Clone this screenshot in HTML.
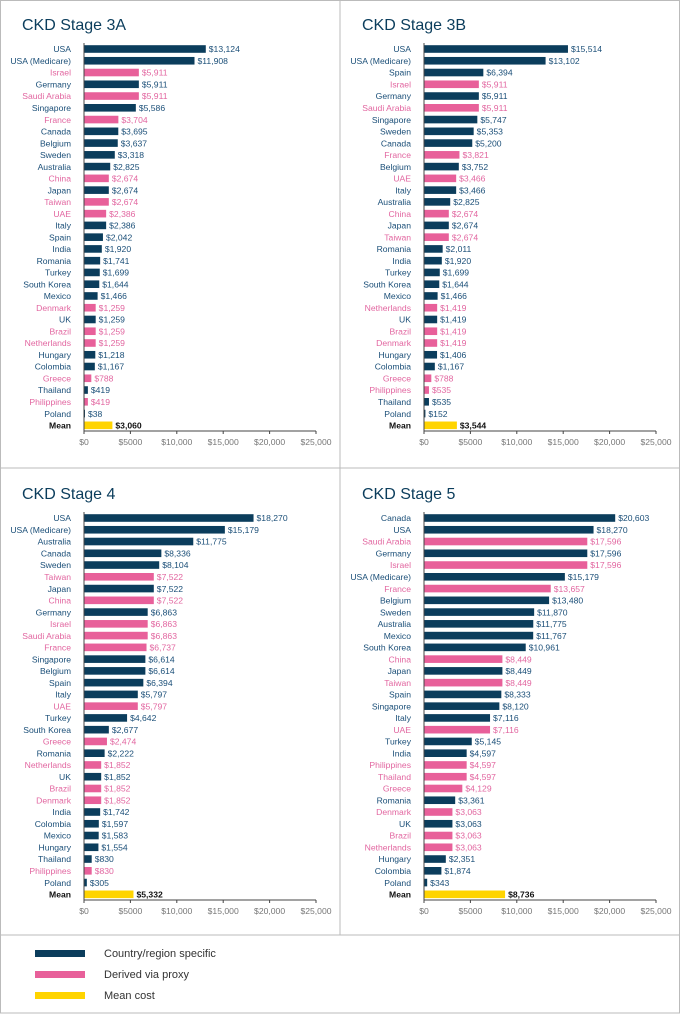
<!DOCTYPE html>
<html><head><meta charset="utf-8">
<style>
html,body{margin:0;padding:0;background:#fff;}
svg{display:block;font-family:"Liberation Sans",sans-serif;}
</style></head>
<body>
<svg id="chart" width="680" height="1014" viewBox="0 0 680 1014" xmlns="http://www.w3.org/2000/svg">
<rect x="0.5" y="0.5" width="679" height="1012.5" fill="#fff" stroke="#bbb"/>
<line x1="340" y1="0" x2="340" y2="935" stroke="#bbb"/>
<line x1="0" y1="468" x2="680" y2="468" stroke="#bbb"/>
<line x1="0" y1="935" x2="680" y2="935" stroke="#bbb"/>
<g>
  <rect x="35" y="950" width="50" height="7" fill="#0b3d5c"/>
  <text x="104" y="957" font-size="11" fill="#333">Country/region specific</text>
  <rect x="35" y="971" width="50" height="7" fill="#e8609a"/>
  <text x="104" y="978" font-size="11" fill="#333">Derived via proxy</text>
  <rect x="35" y="992" width="50" height="7" fill="#ffd400"/>
  <text x="104" y="999" font-size="11" fill="#333">Mean cost</text>
</g>
</svg>
<script>
const tickValues = [0, 5000, 10000, 15000, 20000, 25000];
const tickLabels = ["$0", "$5000", "$10,000", "$15,000", "$20,000", "$25,000"];

const titles = ["CKD Stage 3A", "CKD Stage 3B", "CKD Stage 4", "CKD Stage 5"];

const names3A = ["USA","USA (Medicare)","Israel","Germany","Saudi Arabia","Singapore","France","Canada","Belgium","Sweden","Australia","China","Japan","Taiwan","UAE","Italy","Spain","India","Romania","Turkey","South Korea","Mexico","Denmark","UK","Brazil","Netherlands","Hungary","Colombia","Greece","Thailand","Philippines","Poland","Mean"];
const values3A = [13124,11908,5911,5911,5911,5586,3704,3695,3637,3318,2825,2674,2674,2674,2386,2386,2042,1920,1741,1699,1644,1466,1259,1259,1259,1259,1218,1167,788,419,419,38,3060];
const types3A = "ccpcpcpccccpcppcccccccpcppccpcpcm";

const names3B = ["USA","USA (Medicare)","Spain","Israel","Germany","Saudi Arabia","Singapore","Sweden","Canada","France","Belgium","UAE","Italy","Australia","China","Japan","Taiwan","Romania","India","Turkey","South Korea","Mexico","Netherlands","UK","Brazil","Denmark","Hungary","Colombia","Greece","Philippines","Thailand","Poland","Mean"];
const values3B = [15514,13102,6394,5911,5911,5911,5747,5353,5200,3821,3752,3466,3466,2825,2674,2674,2674,2011,1920,1699,1644,1466,1419,1419,1419,1419,1406,1167,788,535,535,152,3544];
const types3B = "cccpcpcccpcpccpcpcccccpcppccppccm";

const names4 = ["USA","USA (Medicare)","Australia","Canada","Sweden","Taiwan","Japan","China","Germany","Israel","Saudi Arabia","France","Singapore","Belgium","Spain","Italy","UAE","Turkey","South Korea","Greece","Romania","Netherlands","UK","Brazil","Denmark","India","Colombia","Mexico","Hungary","Thailand","Philippines","Poland","Mean"];
const values4 = [18270,15179,11775,8336,8104,7522,7522,7522,6863,6863,6863,6737,6614,6614,6394,5797,5797,4642,2677,2474,2222,1852,1852,1852,1852,1742,1597,1583,1554,830,830,305,5332];
const types4 = "cccccpcpcpppccccpccpcpcppcccccpcm";

const names5 = ["Canada","USA","Saudi Arabia","Germany","Israel","USA (Medicare)","France","Belgium","Sweden","Australia","Mexico","South Korea","China","Japan","Taiwan","Spain","Singapore","Italy","UAE","Turkey","India","Philippines","Thailand","Greece","Romania","Denmark","UK","Brazil","Netherlands","Hungary","Colombia","Poland","Mean"];
const values5 = [20603,18270,17596,17596,17596,15179,13657,13480,11870,11775,11767,10961,8449,8449,8449,8333,8120,7116,7116,5145,4597,4597,4597,4129,3361,3063,3063,3063,3063,2351,1874,343,8736];
const types5 = "ccpcpcpcccccpcpcccpccpppcpcppcccm";
</script>
<script>
const svg = document.getElementById('chart');
const NS = 'http://www.w3.org/2000/svg';
const panels = [
  {ox:0, oy:0, names:names3A, values:values3A, types:types3A},
  {ox:340, oy:0, names:names3B, values:values3B, types:types3B},
  {ox:0, oy:469, names:names4, values:values4, types:types4},
  {ox:340, oy:469, names:names5, values:values5, types:types5}
];
const COL = {c:'#0b3d5c', p:'#e8609a', m:'#ffd400'};
const TXT = {c:'#1b4f78', p:'#e266a0', m:'#111'};
function fmt(v){ return '$' + v.toLocaleString('en-US'); }
function mk(tag, attrs, parent){
  const e = document.createElementNS(NS, tag);
  for (const k in attrs) e.setAttribute(k, attrs[k]);
  parent.appendChild(e);
  return e;
}
panels.forEach((P, pi) => {
  const g = mk('g', {}, svg);
  
  
  const x0 = P.ox + 84, x1 = P.ox + 316;
  const xs = v => x0 + (v / 25000) * (x1 - x0);
  const y0 = P.oy + 49, step = 11.76;
  const ys = i => y0 + i * step;
  const axisY = P.oy + 431;
  const t = mk('text', {x: P.ox + 22, y: P.oy + 30, 'font-size': 16, fill: '#0b3d5c'}, g);
  
  
  t.textContent = titles[pi];
  P.names.forEach((n, i) => {
    const ty = P.types[i];
    const cy = ys(i);
    const lab = mk('text', {x: x0 - 13, y: cy + 3.2, 'font-size': 8.6, 'text-anchor': 'end', fill: TXT[ty], 'font-weight': ty === 'm' ? 'bold' : 'normal'}, g);
    
    
    lab.textContent = n;
    const w = Math.max(xs(P.values[i]) - x0, 1);
    const bar = mk('rect', {x: x0, y: cy - 3.8, width: w, height: 7.6, fill: COL[ty]}, g);
    
    
    const val = mk('text', {x: x0 + w + 3, y: cy + 3.2, 'font-size': 8.6, fill: TXT[ty], 'font-weight': ty === 'm' ? 'bold' : 'normal'}, g);
    
    
    val.textContent = fmt(P.values[i]);
  });
  const ya = mk('line', {x1: x0, y1: P.oy + 43, x2: x0, y2: axisY, stroke: '#444', 'stroke-width': 1}, g);
  
  
  const xa = mk('line', {x1: x0, y1: axisY, x2: x1, y2: axisY, stroke: '#444', 'stroke-width': 1}, g);
  
  
  tickValues.forEach((tv, k) => {
    const tx = xs(tv);
    const tk = mk('line', {x1: tx, y1: axisY, x2: tx, y2: axisY + 3, stroke: '#444'}, g);
    
    
    const tl = mk('text', {x: tx, y: axisY + 14, 'font-size': 8.6, 'text-anchor': 'middle', fill: '#777'}, g);
    
    
    tl.textContent = tickLabels[k];
  });
});
</script>
</body></html>
